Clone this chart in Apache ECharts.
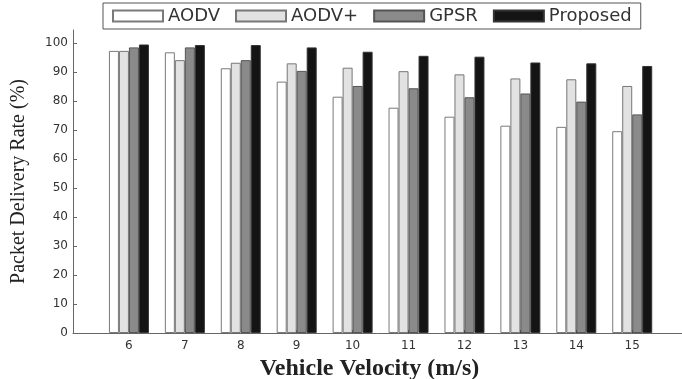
<!DOCTYPE html>
<html>
<head>
<meta charset="utf-8">
<script src="https://cdn.jsdelivr.net/npm/echarts@6/dist/echarts.min.js"></script>
<style>
  html, body { margin: 0; padding: 0; background: #fff; }
  #main { width: 682px; height: 379px; }
</style>
</head>
<body>
<div id="main"></div>
<script>
// 车速（x 轴类别）
var velocity = [6, 7, 8, 9, 10, 11, 12, 13, 14, 15];
// 各协议的投递率 (%)
var aodv     = [97.3, 96.8, 91.3, 86.7, 81.5, 77.7, 74.6, 71.5, 71.1, 69.6];
var aodvPlus = [97.3, 94.1, 93.2, 93.0, 91.5, 90.3, 89.2, 87.8, 87.5, 85.2];
var gpsr     = [98.5, 98.5, 94.1, 90.4, 85.2, 84.4, 81.3, 82.6, 79.8, 75.4];
var proposed = [99.5, 99.3, 99.3, 98.5, 97.0, 95.6, 95.3, 93.3, 93.0, 92.1];
var yTicks = [0, 10, 20, 30, 40, 50, 60, 70, 80, 90, 100];

function pairs(vals) {
  var res = [];
  for (var i = 0; i < velocity.length; i++) {
    res.push([velocity[i], vals[i]]);
  }
  return res;
}

var chart = echarts.init(document.getElementById('main'));
var labelFont = { fontFamily: 'DejaVu Sans', fontSize: 12, color: '#333' };

chart.setOption({
  animation: false,
  legend: {
    left: 103,
    top: 3,
    padding: [4, 9, 4, 9],
    icon: 'rect',
    itemWidth: 50,
    itemHeight: 11,
    itemGap: 15,
    borderColor: '#555',
    borderWidth: 1,
    textStyle: { fontFamily: 'DejaVu Sans', fontSize: 18, color: '#333' },
    data: ['AODV', 'AODV+', 'GPSR', 'Proposed']
  },
  grid: { left: 73, right: 0, top: 30, bottom: 46, outerBoundsMode: 'none', containLabel: false },
  xAxis: {
    type: 'value',
    min: 5,
    max: 15.89,
    name: 'Vehicle Velocity (m/s)',
    nameLocation: 'middle',
    nameGap: 22,
    nameTextStyle: { fontFamily: 'Liberation Serif', fontWeight: 'bold', fontSize: 24, color: '#222', padding: [0, 16, 0, 0] },
    axisLine: { lineStyle: { color: '#666' } },
    axisTick: { inside: true, length: 3, lineStyle: { color: '#222' }, customValues: velocity },
    axisLabel: Object.assign({ margin: 7, customValues: velocity }, labelFont),
    splitLine: { show: false }
  },
  yAxis: {
    type: 'value',
    min: 0,
    max: 104.5,
    name: 'Packet Delivery Rate (%)',
    nameLocation: 'middle',
    nameGap: 44,
    nameTextStyle: { fontFamily: 'Liberation Serif', fontSize: 20, color: '#222' },
    axisLine: { show: true, lineStyle: { color: '#666' } },
    axisTick: { show: true, inside: true, length: 4, lineStyle: { color: '#666' }, customValues: yTicks },
    axisLabel: Object.assign({ margin: 5, customValues: yTicks }, labelFont),
    splitLine: { show: false }
  },
  series: [
    { name: 'AODV', type: 'bar', barWidth: 10, barGap: '0%', data: pairs(aodv),
      itemStyle: { color: '#ffffff', borderColor: '#7a7a7a', borderWidth: 1 } },
    { name: 'AODV+', type: 'bar', barWidth: 10, barGap: '0%', data: pairs(aodvPlus),
      itemStyle: { color: '#e2e2e2', borderColor: '#777', borderWidth: 1 } },
    { name: 'GPSR', type: 'bar', barWidth: 10, barGap: '0%', data: pairs(gpsr),
      itemStyle: { color: '#8a8a8a', borderColor: '#555', borderWidth: 1 } },
    { name: 'Proposed', type: 'bar', barWidth: 10, barGap: '0%', data: pairs(proposed),
      itemStyle: { color: '#141414', borderColor: '#333', borderWidth: 1 } }
  ]
});
</script>
</body>
</html>
